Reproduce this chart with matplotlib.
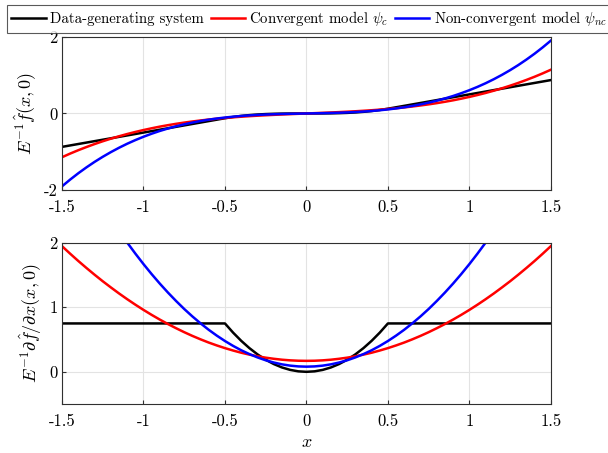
import matplotlib
matplotlib.use("Agg")
import matplotlib.pyplot as plt

plt.rcParams['font.family'] = 'serif'
plt.rcParams['font.serif'] = ['cmr10', 'DejaVu Serif']
plt.rcParams['mathtext.fontset'] = 'cm'
plt.rcParams['axes.unicode_minus'] = False

# positive half of the x grid (the curves are odd / even in x)
half_x = [0.05, 0.1, 0.15, 0.2, 0.25, 0.3, 0.35, 0.4, 0.45, 0.5,
          0.55, 0.6, 0.65, 0.7, 0.75, 0.8, 0.85, 0.9, 0.95, 1.0,
          1.05, 1.1, 1.15, 1.2, 1.25, 1.3, 1.35, 1.4, 1.45, 1.5]

half_data_f = [0.0001, 0.001, 0.0034, 0.008, 0.0156, 0.027, 0.0429, 0.064, 0.0911, 0.125,
               0.1625, 0.2, 0.2375, 0.275, 0.3125, 0.35, 0.3875, 0.425, 0.4625, 0.5,
               0.5375, 0.575, 0.6125, 0.65, 0.6875, 0.725, 0.7625, 0.8, 0.8375, 0.875]
half_conv_f = [0.0085, 0.0173, 0.0264, 0.0361, 0.0466, 0.0581, 0.0708, 0.0849, 0.1006, 0.118,
               0.1374, 0.159, 0.183, 0.210, 0.2389, 0.271, 0.3066, 0.345, 0.3879, 0.434,
               0.4841, 0.538, 0.597, 0.660, 0.728, 0.801, 0.879, 0.962, 1.051, 1.146]
half_nonc_f = [0.0041, 0.0085, 0.0138, 0.0202, 0.0283, 0.0383, 0.0507, 0.0659, 0.0843, 0.106,
               0.1322, 0.1625, 0.1976, 0.238, 0.2836, 0.335, 0.3935, 0.458, 0.5304, 0.610,
               0.6975, 0.793, 0.8981, 1.012, 1.135, 1.268, 1.412, 1.566, 1.732, 1.909]

half_data_d = [0.0075, 0.03, 0.0675, 0.12, 0.1875, 0.27, 0.3675, 0.48, 0.6075, 0.75,
               0.75, 0.75, 0.75, 0.75, 0.75, 0.75, 0.75, 0.75, 0.75, 0.75,
               0.75, 0.75, 0.75, 0.75, 0.75, 0.75, 0.75, 0.75, 0.75, 0.75]
half_conv_d = [0.172, 0.178, 0.1878, 0.202, 0.2194, 0.241, 0.2668, 0.296, 0.330, 0.3675,
               0.409, 0.454, 0.5038, 0.557, 0.6144, 0.676, 0.7408, 0.810, 0.883, 0.96,
               1.041, 1.126, 1.2148, 1.308, 1.404, 1.505, 1.6098, 1.718, 1.831, 1.948]
half_nonc_d = [0.084, 0.096, 0.1158, 0.144, 0.179, 0.223, 0.275, 0.334, 0.402, 0.4775,
               0.561, 0.652, 0.752, 0.859, 0.974, 1.098, 1.229, 1.368, 1.515, 1.67,
               1.833, 2.004, 2.183, 2.37, 2.564, 2.77, 2.978, 3.20, 3.423, 3.66]

x = [-v for v in half_x[::-1]] + [0.0] + half_x
data_f = [-v for v in half_data_f[::-1]] + [0.0] + half_data_f
conv_f = [-v for v in half_conv_f[::-1]] + [0.0] + half_conv_f
nonc_f = [-v for v in half_nonc_f[::-1]] + [0.0] + half_nonc_f
data_d = half_data_d[::-1] + [0.0] + half_data_d
conv_d = half_conv_d[::-1] + [0.17] + half_conv_d
nonc_d = half_nonc_d[::-1] + [0.08] + half_nonc_d

labels = ['Data-generating system', r'Convergent model $\psi_c$', r'Non-convergent model $\psi_{nc}$']
colors = ['black', 'red', 'blue']
xticks = [-1.5, -1, -0.5, 0, 0.5, 1, 1.5]
xticklabels = ['-1.5', '-1', '-0.5', '0', '0.5', '1', '1.5']

fig = plt.figure(figsize=(6.08, 4.53), dpi=100)
ax1 = fig.add_axes([0.102, 0.581, 0.804, 0.337])
ax2 = fig.add_axes([0.102, 0.108, 0.804, 0.356])

for ax in (ax1, ax2):
    ax.grid(True, color='#e3e3e3', linewidth=0.8)
    ax.set_axisbelow(True)
    ax.set_xlim(-1.5, 1.5)
    ax.set_xticks(xticks)
    ax.set_xticklabels(xticklabels)
    ax.tick_params(direction='in', labelsize=12, color='#303030', length=3)
    ax.tick_params(axis='x', pad=7)
    ax.tick_params(axis='y', pad=3)
    for s in ax.spines.values():
        s.set_color('#303030')
        s.set_linewidth(0.8)

lines = []
for ys, c, lab in zip([data_f, conv_f, nonc_f], colors, labels):
    l, = ax1.plot(x, ys, color=c, linewidth=1.8, label=lab)
    lines.append(l)
ax1.set_ylim(-2, 2)
ax1.set_yticks([-2, 0, 2])
ax1.set_yticklabels(['-2', '0', '2'])
ax1.set_ylabel(r'$E^{-1}\hat{f}(x,0)$', fontsize=13)

for ys, c in zip([data_d, conv_d, nonc_d], colors):
    ax2.plot(x, ys, color=c, linewidth=1.8)
ax2.set_ylim(-0.5, 2)
ax2.set_yticks([0, 1, 2])
ax2.set_yticklabels(['0', '1', '2'])
ax2.set_ylabel(r'$E^{-1}\partial\hat{f}/\partial x(x,0)$', fontsize=13)
ax2.set_xlabel(r'$x$', fontsize=13)

leg = fig.legend(handles=lines, loc='upper left', bbox_to_anchor=(7 / 608, 1 - 5 / 453), ncol=3,
                 fontsize=10.7, frameon=True, fancybox=False, edgecolor='#303030',
                 handlelength=2.3, handletextpad=0.3, columnspacing=0.45, borderpad=0.3,
                 borderaxespad=0)
leg.get_frame().set_linewidth(0.8)

fig.savefig('out.png', dpi=100)
